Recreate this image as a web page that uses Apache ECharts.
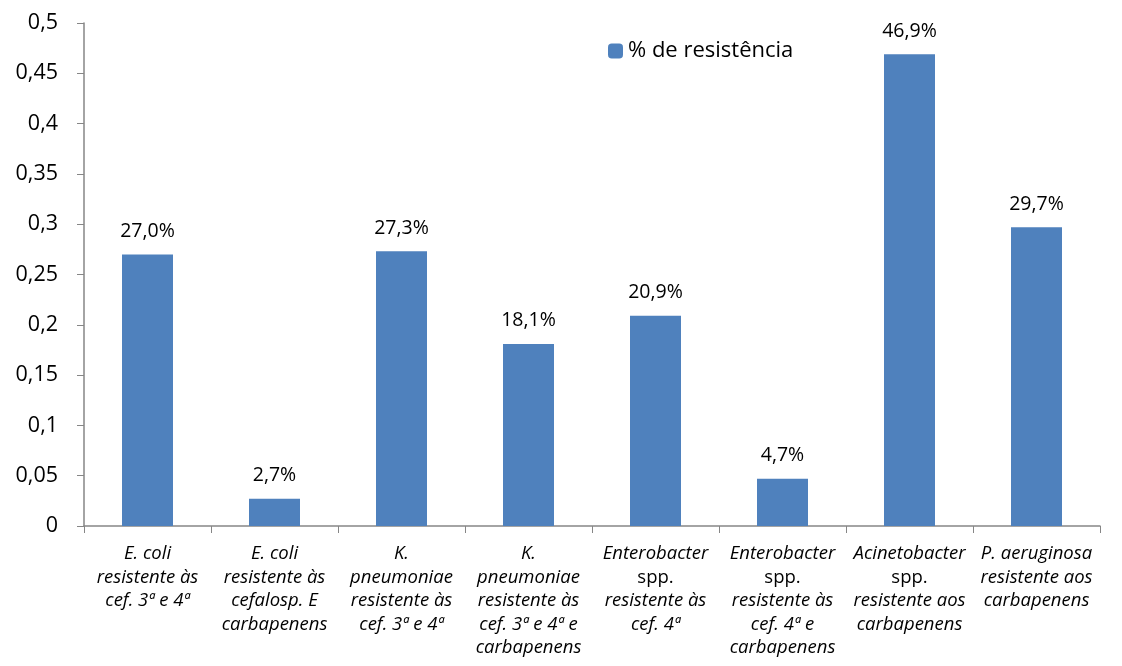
<!DOCTYPE html>
<html>
<head>
<meta charset="utf-8">
<script src="https://cdn.jsdelivr.net/npm/echarts@6/dist/echarts.min.js"></script>
<style>
  html, body { margin: 0; padding: 0; background: #fff; }
  #chart { width: 1122px; height: 666px; }
</style>
</head>
<body>
<div id="chart"></div>
<script>
// categories (one line per \n; "spp." is the only upright line)
const categories = [
  "E. coli\nresistente às\ncef. 3ª e 4ª",
  "E. coli\nresistente às\ncefalosp. E\ncarbapenens",
  "K.\npneumoniae\nresistente às\ncef. 3ª e 4ª",
  "K.\npneumoniae\nresistente às\ncef. 3ª e 4ª e\ncarbapenens",
  "Enterobacter\nspp.\nresistente às\ncef. 4ª",
  "Enterobacter\nspp.\nresistente às\ncef. 4ª e\ncarbapenens",
  "Acinetobacter\nspp.\nresistente aos\ncarbapenens",
  "P. aeruginosa\nresistente aos\ncarbapenens"
];
const resistance = [0.270, 0.027, 0.273, 0.181, 0.209, 0.047, 0.469, 0.297];
const seriesName = "% de resistência";

const font = "'Open Sans', 'Noto Sans', sans-serif";
const comma = (v) => String(v).replace(".", ",");

const chart = echarts.init(document.getElementById("chart"));
chart.setOption({
  animation: false,
  textStyle: { fontFamily: font },
  grid: { left: 84, right: 22, top: 23, bottom: 140, containLabel: false },
  legend: {
    data: [seriesName],
    left: 603,
    top: 35,
    itemWidth: 15,
    itemHeight: 15,
    itemGap: 5,
    textStyle: { fontSize: 22, color: "#000", fontFamily: font }
  },
  xAxis: {
    type: "category",
    data: categories,
    axisLine: { lineStyle: { color: "#868686", width: 1.5 } },
    axisTick: { show: true, length: 7, alignWithLabel: false, lineStyle: { color: "#868686" } },
    axisLabel: {
      interval: 0,
      margin: 16,
      formatter: (v) => v.split("\n").map((l) => (l === "spp." ? "{n|" + l + "}" : "{i|" + l + "}")).join("\n"),
      rich: {
        i: { fontStyle: "italic", fontSize: 18.5, lineHeight: 23.5, color: "#000", fontFamily: font },
        n: { fontStyle: "normal", fontSize: 18.5, lineHeight: 23.5, color: "#000", fontFamily: font }
      }
    }
  },
  yAxis: {
    type: "value",
    min: 0,
    max: 0.5,
    interval: 0.05,
    splitLine: { show: false },
    axisLine: { show: true, lineStyle: { color: "#868686", width: 1.5 } },
    axisTick: { show: true, length: 7, lineStyle: { color: "#868686" } },
    axisLabel: {
      fontSize: 21.5,
      color: "#000",
      margin: 26,
      formatter: (v) => comma(+v.toFixed(2))
    }
  },
  series: [{
    name: seriesName,
    type: "bar",
    data: resistance,
    barWidth: 51,
    itemStyle: { color: "#4F81BD" },
    label: {
      show: true,
      position: "top",
      distance: 13,
      fontSize: 19.5,
      color: "#000",
      formatter: (p) => comma((p.value * 100).toFixed(1)) + "%"
    }
  }]
});
</script>
</body>
</html>
